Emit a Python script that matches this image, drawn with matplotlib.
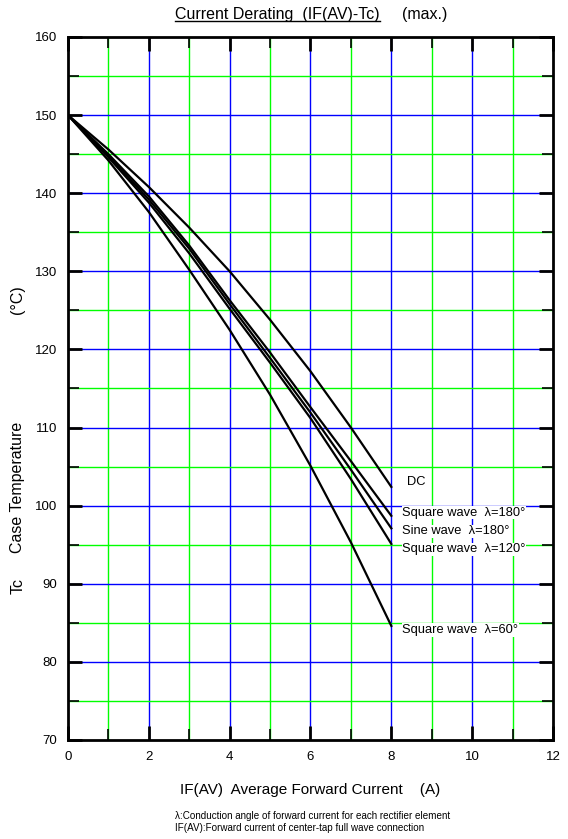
import numpy as np
import matplotlib.pyplot as plt
from matplotlib.lines import Line2D

plt.rcParams['font.family'] = ['Liberation Sans', 'DejaVu Sans']

# Average forward current (A)
current = [0, 1, 2, 3, 4, 5, 6, 7, 8]

# Case temperature (deg C)
tc_dc = [150, 145.6, 140.8, 135.6, 130.0, 123.8, 117.2, 110.0, 102.4]
tc_sq180 = [150, 145.0, 139.6, 133.3, 126.3, 119.6, 112.6, 105.7, 98.7]
tc_sine180 = [150, 144.8, 139.2, 132.9, 125.8, 118.9, 111.9, 104.6, 97.1]
tc_sq120 = [150, 144.6, 138.8, 132.3, 125.2, 118.3, 111.2, 103.4, 95.1]
tc_sq60 = [150, 144.2, 137.6, 130.2, 122.5, 114.2, 105.1, 95.3, 84.6]

curve_labels = ['DC', 'Square wave  λ=180°', 'Sine wave  λ=180°',
                'Square wave  λ=120°', 'Square wave  λ=60°']
label_y = [103.0, 99.1, 96.7, 94.4, 84.1]

fig = plt.figure(figsize=(5.68, 8.39), dpi=100)
ax = fig.add_axes([0.1197, 0.118, 0.8539, 0.8379])

ax.set_xlim(0, 12)
ax.set_ylim(70, 160)

# grid: green on odd / 5s, blue on even / 10s
for x in range(1, 12):
    ax.axvline(x, color='#0000ff' if x % 2 == 0 else '#00ff00', lw=1.0, zorder=1)
for y in range(75, 160, 5):
    ax.axhline(y, color='#0000ff' if y % 10 == 0 else '#00ff00', lw=1.0, zorder=1)

for series in [tc_dc, tc_sq180, tc_sine180, tc_sq120, tc_sq60]:
    ax.plot(current, series, color='black', lw=1.6, zorder=3)

for text, y in zip(curve_labels, label_y):
    xpos = 8.39 if text == 'DC' else 8.27
    ax.text(xpos, y, text, fontsize=9.3, va='center', ha='left', zorder=4,
            bbox=dict(facecolor='white', edgecolor='none', pad=0.5))

ax.set_xticks(range(0, 13, 2))
ax.set_xticks(range(0, 13), minor=True)
ax.set_yticks(range(70, 161, 10))
ax.set_yticks(range(70, 161, 5), minor=True)
ax.tick_params(which='both', direction='in', top=True, right=True,
               labelsize=9.5, color='black')
ax.tick_params(which='major', length=10, width=2, pad=8)
ax.tick_params(which='minor', length=8, width=1.2)
for s in ax.spines.values():
    s.set_linewidth(2)

ax.set_xlabel('IF(AV)  Average Forward Current    (A)', fontsize=11, labelpad=14)

# y label is three separate pieces with wide gaps
for txt, py in [('Tc', 586), ('Case Temperature', 487), ('(°C)', 300)]:
    fig.text(18 / 568, 1 - py / 839, txt, fontsize=11.5, rotation=90,
             ha='center', va='center')

t1 = fig.text(0.308, 0.983, 'Current Derating  (IF(AV)-Tc)', fontsize=11.5,
              ha='left', va='center')
fig.text(0.708, 0.983, '(max.)', fontsize=11.5, ha='left', va='center')
fig.canvas.draw()
bb = t1.get_window_extent().transformed(fig.transFigure.inverted())
fig.add_artist(Line2D([bb.x0, bb.x1], [bb.y0 + 0.001, bb.y0 + 0.001],
                      color='black', lw=1, transform=fig.transFigure))

fig.text(0.308, 0.020, 'λ:Conduction angle of forward current for each rectifier element\n'
         'IF(AV):Forward current of center-tap full wave connection',
         fontsize=7.1, ha='left', va='center', linespacing=1.3)

fig.savefig('out.png', dpi=100)
